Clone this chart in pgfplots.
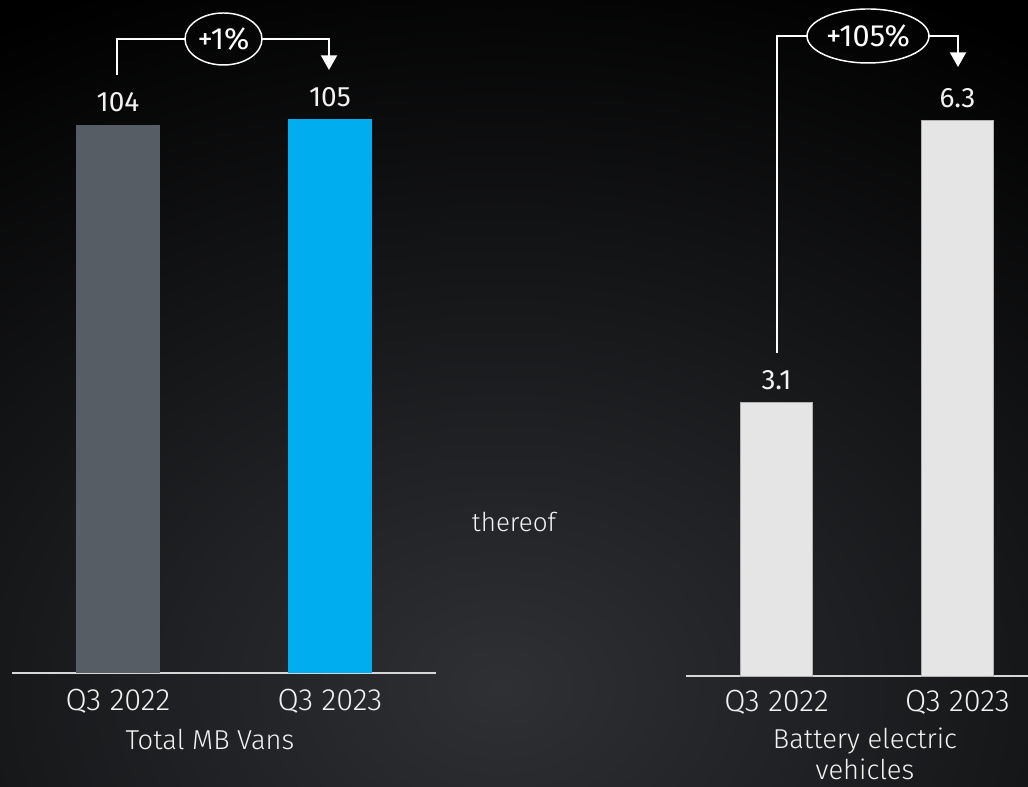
\documentclass[border=0pt]{standalone}
\usepackage{fontspec}
\setmainfont{Fira Sans}[UprightFont=* Light]
\newfontfamily\regfont{Fira Sans}
\usepackage{pgfplots}
\pgfplotsset{compat=1.18}
\usetikzlibrary{arrows.meta}
\definecolor{bgc}{RGB}{46,48,52}
\definecolor{greybar}{RGB}{86,93,100}
\definecolor{bluebar}{RGB}{0,174,239}
\definecolor{lightbar}{RGB}{229,229,229}
\definecolor{txt}{RGB}{242,242,242}
\definecolor{axc}{RGB}{215,215,215}
\begin{document}
\begin{tikzpicture}[x=0.75pt,y=0.75pt,font=\fontsize{19.5}{23}\selectfont]
\fill[black] (0,0) rectangle (1028,787);
\begin{scope}
\clip (0,0) rectangle (1028,787);
\shade[inner color=bgc, outer color=black] (500,100) ellipse (1000 and 760);
\end{scope}
\pgfplotsset{vanbar/.style={
  ybar, bar shift=0pt, bar width=0.4,
  axis y line=none, axis x line=bottom,
  x axis line style={-, axc, line width=1.5pt},
  xtick={0,1}, xticklabels={Q3 2022,Q3 2023},
  major tick length=0pt,
  /pgf/number format/assume math mode=true,
  nodes near coords,
  nodes near coords style={text=txt, anchor=base, yshift=9.5pt, font=\regfont\fontsize{21}{25}\selectfont},
  clip=false, anchor=south west,
}}
\begin{axis}[vanbar, at={(9pt,85.5pt)}, x=159pt, y=3.955pt,
  xmin=-0.5, xmax=1.5, ymin=0, ymax=127.6,
  xticklabel style={text=txt, anchor=base, yshift=-28.5pt, font=\fontsize{23}{27}\selectfont}]
\addplot[fill=greybar, draw=none] coordinates {(0,104)};
\addplot[fill=bluebar, draw=none] coordinates {(1,105)};
\end{axis}
\begin{axis}[vanbar, at={(514.5pt,83.25pt)}, x=135.75pt, y=66.15pt,
  xmin=-0.5, xmax=1.387, ymin=0, ymax=7.66,
  xticklabel style={text=txt, anchor=base, yshift=-27pt, font=\fontsize{23}{27}\selectfont}]
\addplot[fill=lightbar, draw=gray!60, line width=0.5pt] coordinates {(0,3.1)};
\addplot[fill=lightbar, draw=gray!60, line width=0.5pt] coordinates {(1,6.3)};
\end{axis}
% category labels
\begin{scope}[font=\fontsize{20.5}{24}\selectfont]
\node[text=txt, anchor=base] at (210,37) {Total MB Vans};
\node[text=txt, anchor=base] at (865,38) {Battery electric};
\node[text=txt, anchor=base] at (865,7) {vehicles};
\end{scope}
\node[text=txt, anchor=base] at (514,255) {thereof};
% growth annotations
\draw[white, line width=1.5pt] (117,712) |- (185,748);
\draw[white, line width=1.1pt] (223.5,748) ellipse (38.5 and 26);
\node[text=white, font=\regfont\fontsize{23}{27}\selectfont] at (223.5,748) {+1\%};
\draw[white, line width=1.5pt, -{Triangle[width=12pt,length=11pt]}] (262,748) -| (329,717);
\draw[white, line width=1.5pt] (777,434) |- (807,751);
\draw[white, line width=1.1pt] (868,751) ellipse (61 and 27);
\node[text=white, font=\regfont\fontsize{23}{27}\selectfont] at (868,751) {+105\%};
\draw[white, line width=1.5pt, -{Triangle[width=12pt,length=11pt]}] (929,751) -| (958,720);
\pgfresetboundingbox
\path[use as bounding box] (0,0) rectangle (1028,787);
\end{tikzpicture}
\end{document}
